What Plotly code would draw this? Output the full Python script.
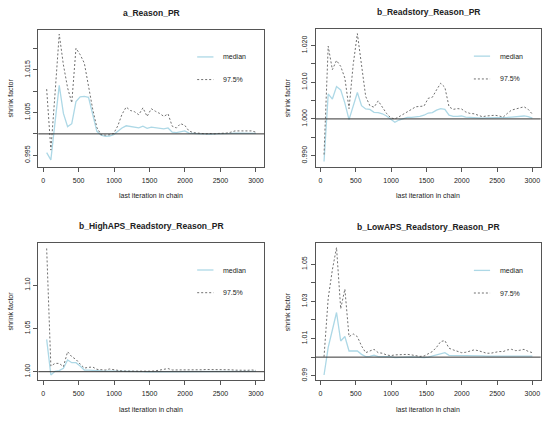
import plotly.graph_objects as go

# last iteration in chain (gelman.plot bins)
iterations = [50, 109, 168, 227, 286, 345, 404, 463, 522, 581, 640, 699, 758, 817,
              876, 935, 994, 1053, 1112, 1171, 1230, 1289, 1348, 1407, 1466, 1525,
              1584, 1643, 1702, 1761, 1820, 1879, 1938, 1997, 2056, 2115, 2174, 2233,
              2292, 2351, 2410, 2469, 2528, 2587, 2646, 2705, 2764, 2823, 2882, 2941, 3000]

titles = ['a_Reason_PR', 'b_Readstory_Reason_PR',
          'b_HighAPS_Readstory_Reason_PR', 'b_LowAPS_Readstory_Reason_PR']

median_a = [0.9956, 0.9939, 1.0027, 1.0114, 1.0048, 1.0017, 1.0024, 1.0076, 1.0087, 1.0088,
            1.0086, 1.0042, 1.0006, 0.9997, 0.9994, 0.9995, 0.9998, 1.0006, 1.0014, 1.0019,
            1.0017, 1.0016, 1.0014, 1.0018, 1.0013, 1.0016, 1.0015, 1.0014, 1.0012, 1.0014,
            1.0004, 1.0003, 1.0005, 1.0007, 1.0002, 1.0001, 1.0001, 1.0000, 1.0000, 0.9999,
            1.0000, 1.0000, 1.0001, 1.0000, 1.0001, 1.0002, 1.0002, 1.0002, 1.0002, 1.0002, 1.0001]
upper_a = [1.0105, 0.9962, 1.0095, 1.0234, 1.0162, 1.0108, 1.0073, 1.0201, 1.0186, 1.0166,
           1.0112, 1.0058, 1.0015, 0.9998, 0.9997, 0.9998, 1.0001, 1.0019, 1.0046, 1.0063,
           1.0055, 1.0052, 1.0045, 1.0061, 1.0041, 1.0059, 1.0053, 1.0048, 1.0041, 1.0047,
           1.0018, 1.0014, 1.0024, 1.0020, 1.0007, 1.0003, 1.0002, 1.0001, 1.0000, 1.0001,
           1.0000, 1.0001, 1.0001, 1.0002, 1.0004, 1.0007, 1.0007, 1.0007, 1.0007, 1.0007, 1.0004]

median_b = [0.9884, 1.0068, 1.0054, 1.0088, 1.0079, 1.0043, 0.9998, 1.0033, 1.0072, 1.0036,
            1.0027, 1.0026, 1.0018, 1.0017, 1.0014, 1.0008, 0.9999, 0.9991, 0.9997, 1.0001,
            1.0004, 1.0004, 1.0005, 1.0007, 1.0010, 1.0016, 1.0017, 1.0024, 1.0028, 1.0026,
            1.0010, 1.0007, 1.0007, 1.0008, 1.0005, 1.0004, 1.0003, 1.0003, 1.0002, 1.0003,
            1.0003, 1.0003, 1.0002, 1.0003, 1.0004, 1.0005, 1.0006, 1.0007, 1.0008, 1.0006, 1.0002]
upper_b = [0.9903, 1.0198, 1.0134, 1.0159, 1.0143, 1.0111, 1.0028, 1.0148, 1.0232, 1.0139,
           1.0061, 1.0036, 1.0032, 1.0049, 1.0033, 1.0015, 1.0003, 1.0000, 1.0006, 1.0012,
           1.0020, 1.0026, 1.0033, 1.0033, 1.0035, 1.0056, 1.0059, 1.0079, 1.0097, 1.0086,
           1.0033, 1.0026, 1.0028, 1.0027, 1.0019, 1.0015, 1.0014, 1.0010, 1.0006, 1.0008,
           1.0010, 1.0010, 1.0008, 1.0005, 1.0015, 1.0024, 1.0027, 1.0031, 1.0033, 1.0026, 1.0013]

median_c = [1.0373, 0.9962, 1.0005, 1.0012, 1.0038, 1.0135, 1.0104, 1.0104, 1.0065, 1.0019,
            1.0019, 1.0019, 1.0012, 1.0008, 1.0008, 1.0004, 1.0003, 1.0002, 1.0001, 1.0001,
            1.0000, 1.0001, 1.0000, 1.0000, 0.9999, 0.9999, 1.0001, 1.0003, 1.0006, 1.0007,
            1.0004, 1.0003, 1.0004, 1.0004, 1.0003, 1.0003, 1.0003, 1.0004, 1.0003, 1.0003,
            1.0004, 1.0003, 1.0003, 1.0004, 1.0003, 1.0003, 1.0003, 1.0003, 1.0003, 1.0004, 1.0003]
upper_c = [1.1423, 1.0065, 1.0096, 1.0096, 1.0058, 1.0231, 1.0173, 1.0142, 1.0088, 1.0042,
           1.0050, 1.0054, 1.0027, 1.0019, 1.0019, 1.0031, 1.0023, 1.0010, 1.0008, 1.0007,
           1.0006, 1.0006, 1.0005, 1.0005, 1.0004, 1.0006, 1.0010, 1.0018, 1.0027, 1.0036,
           1.0020, 1.0019, 1.0024, 1.0025, 1.0024, 1.0022, 1.0020, 1.0022, 1.0025, 1.0026,
           1.0024, 1.0022, 1.0024, 1.0025, 1.0022, 1.0018, 1.0016, 1.0017, 1.0016, 1.0020, 1.0015]

median_d = [0.9904, 1.0053, 1.0146, 1.0240, 1.0087, 1.0111, 1.0033, 1.0033, 1.0033, 1.0015,
            1.0003, 1.0004, 1.0010, 1.0003, 1.0003, 1.0003, 1.0003, 0.9997, 0.9998, 1.0002,
            1.0002, 1.0001, 1.0000, 0.9998, 0.9997, 1.0000, 1.0005, 1.0011, 1.0019, 1.0024,
            1.0010, 1.0010, 1.0008, 1.0006, 1.0007, 1.0008, 1.0008, 1.0008, 1.0007, 1.0005,
            1.0005, 1.0006, 1.0006, 1.0007, 1.0008, 1.0009, 1.0009, 1.0009, 1.0009, 1.0008, 1.0005]
upper_d = [1.0002, 1.0317, 1.0470, 1.0590, 1.0260, 1.0366, 1.0110, 1.0125, 1.0110, 1.0060,
           1.0024, 1.0035, 1.0042, 1.0024, 1.0021, 1.0012, 1.0008, 1.0012, 1.0013, 1.0017,
           1.0015, 1.0012, 1.0008, 1.0004, 1.0006, 1.0017, 1.0030, 1.0053, 1.0084, 1.0089,
           1.0048, 1.0039, 1.0030, 1.0024, 1.0026, 1.0031, 1.0039, 1.0035, 1.0028, 1.0021,
           1.0021, 1.0026, 1.0030, 1.0030, 1.0039, 1.0042, 1.0035, 1.0037, 1.0042, 1.0031, 1.0024]

x_ticks = [0, 500, 1000, 1500, 2000, 2500, 3000]
y_ticks = [
    ([0.995, 1.000, 1.005, 1.010, 1.015, 1.020], ['0.995', '', '1.005', '', '1.015', '']),
    ([0.990, 0.995, 1.000, 1.005, 1.010, 1.015, 1.020], ['0.990', '', '1.000', '', '1.010', '', '1.020']),
    ([1.00, 1.05, 1.10], ['1.00', '1.05', '1.10']),
    ([0.99, 1.00, 1.01, 1.02, 1.03, 1.04, 1.05], ['0.99', '', '1.01', '', '1.03', '', '1.05']),
]
y_ranges = [[0.9923, 1.0245], [0.9870, 1.0246], [0.9904, 1.1492], [0.9877, 1.0614]]

W, H = 550, 421
FONT = 'Liberation Sans, Arial, sans-serif'
TXT = '#222222'
BLUE = '#add8e6'
DASH = '#707070'

# plot boxes in pixels: left, right, top, bottom
boxes = [(38.3, 264.3, 29.5, 166.7), (315.7, 540.7, 28.5, 166.7),
         (38.3, 264.3, 242.5, 380.0), (315.7, 540.7, 243.0, 380.0)]

series = [(median_a, upper_a), (median_b, upper_b), (median_c, upper_c), (median_d, upper_d)]

fig = go.Figure()
shapes = []
annotations = []

for i, (med, upp) in enumerate(series):
    n = '' if i == 0 else str(i + 1)
    xa, ya = 'x' + n, 'y' + n
    left, right, top, bottom = boxes[i]

    fig.add_trace(go.Scatter(x=iterations, y=med, mode='lines', xaxis=xa, yaxis=ya,
                             line=dict(color=BLUE, width=1.3), showlegend=False))
    fig.add_trace(go.Scatter(x=iterations, y=upp, mode='lines', xaxis=xa, yaxis=ya,
                             line=dict(color=DASH, width=1, dash='2px,2px'), showlegend=False))

    axis_common = dict(showline=True, mirror=True, linecolor='#555555', linewidth=1,
                       showgrid=False, zeroline=False, ticks='outside', ticklen=4,
                       tickcolor='#555555', tickfont=dict(family=FONT, size=7, color=TXT))
    fig.layout['xaxis' + n] = dict(axis_common, domain=[left / W, right / W], anchor=ya,
                                   range=[-68, 3118], tickvals=x_ticks, ticklabelstandoff=3)
    tv, tt = y_ticks[i]
    fig.layout['yaxis' + n] = dict(axis_common, domain=[1 - bottom / H, 1 - top / H], anchor=xa,
                                   range=y_ranges[i], tickvals=tv, ticktext=tt, tickangle=-90,
                                   ticklabelstandoff=1)

    # reference line at 1
    shapes.append(dict(type='line', xref=xa + ' domain', yref=ya, x0=0, x1=1, y0=1, y1=1,
                       line=dict(color='#333333', width=1)))

    # legend
    for yy, col, solid, label in [(0.80, BLUE, True, 'median'), (0.635, DASH, False, '97.5%')]:
        shapes.append(dict(type='line', xref=xa + ' domain', yref=ya + ' domain',
                           x0=0.703, x1=0.775, y0=yy, y1=yy,
                           line=dict(color=col, width=1.3 if solid else 1,
                                     dash='solid' if solid else '2px,2px')))
        annotations.append(dict(text=label, xref=xa + ' domain', yref=ya + ' domain',
                                x=0.81, y=yy, xanchor='left', yanchor='middle', showarrow=False,
                                font=dict(family=FONT, size=7, color=TXT)))

    annotations.append(dict(text='<b>' + titles[i] + '</b>', xref=xa + ' domain', yref=ya + ' domain',
                            x=0.5, y=1, yshift=16.5, xanchor='center', yanchor='middle',
                            showarrow=False, font=dict(family=FONT, size=8.5, color=TXT)))
    annotations.append(dict(text='last iteration in chain', xref=xa + ' domain', yref=ya + ' domain',
                            x=0.5, y=0, yshift=-29, xanchor='center', yanchor='middle',
                            showarrow=False, font=dict(family=FONT, size=7, color=TXT)))
    annotations.append(dict(text='shrink factor', xref=xa + ' domain', yref=ya + ' domain',
                            x=0, y=0.5, xshift=-28, xanchor='center', yanchor='middle',
                            textangle=-90, showarrow=False,
                            font=dict(family=FONT, size=7, color=TXT)))

fig.update_layout(width=W, height=H, margin=dict(l=0, r=0, t=0, b=0),
                  paper_bgcolor='white', plot_bgcolor='white',
                  shapes=shapes, annotations=annotations)

# page body margin would shift the figure
fig.write_html('out.html', config={'displayModeBar': False},
               post_script="document.body.style.margin='0';")
